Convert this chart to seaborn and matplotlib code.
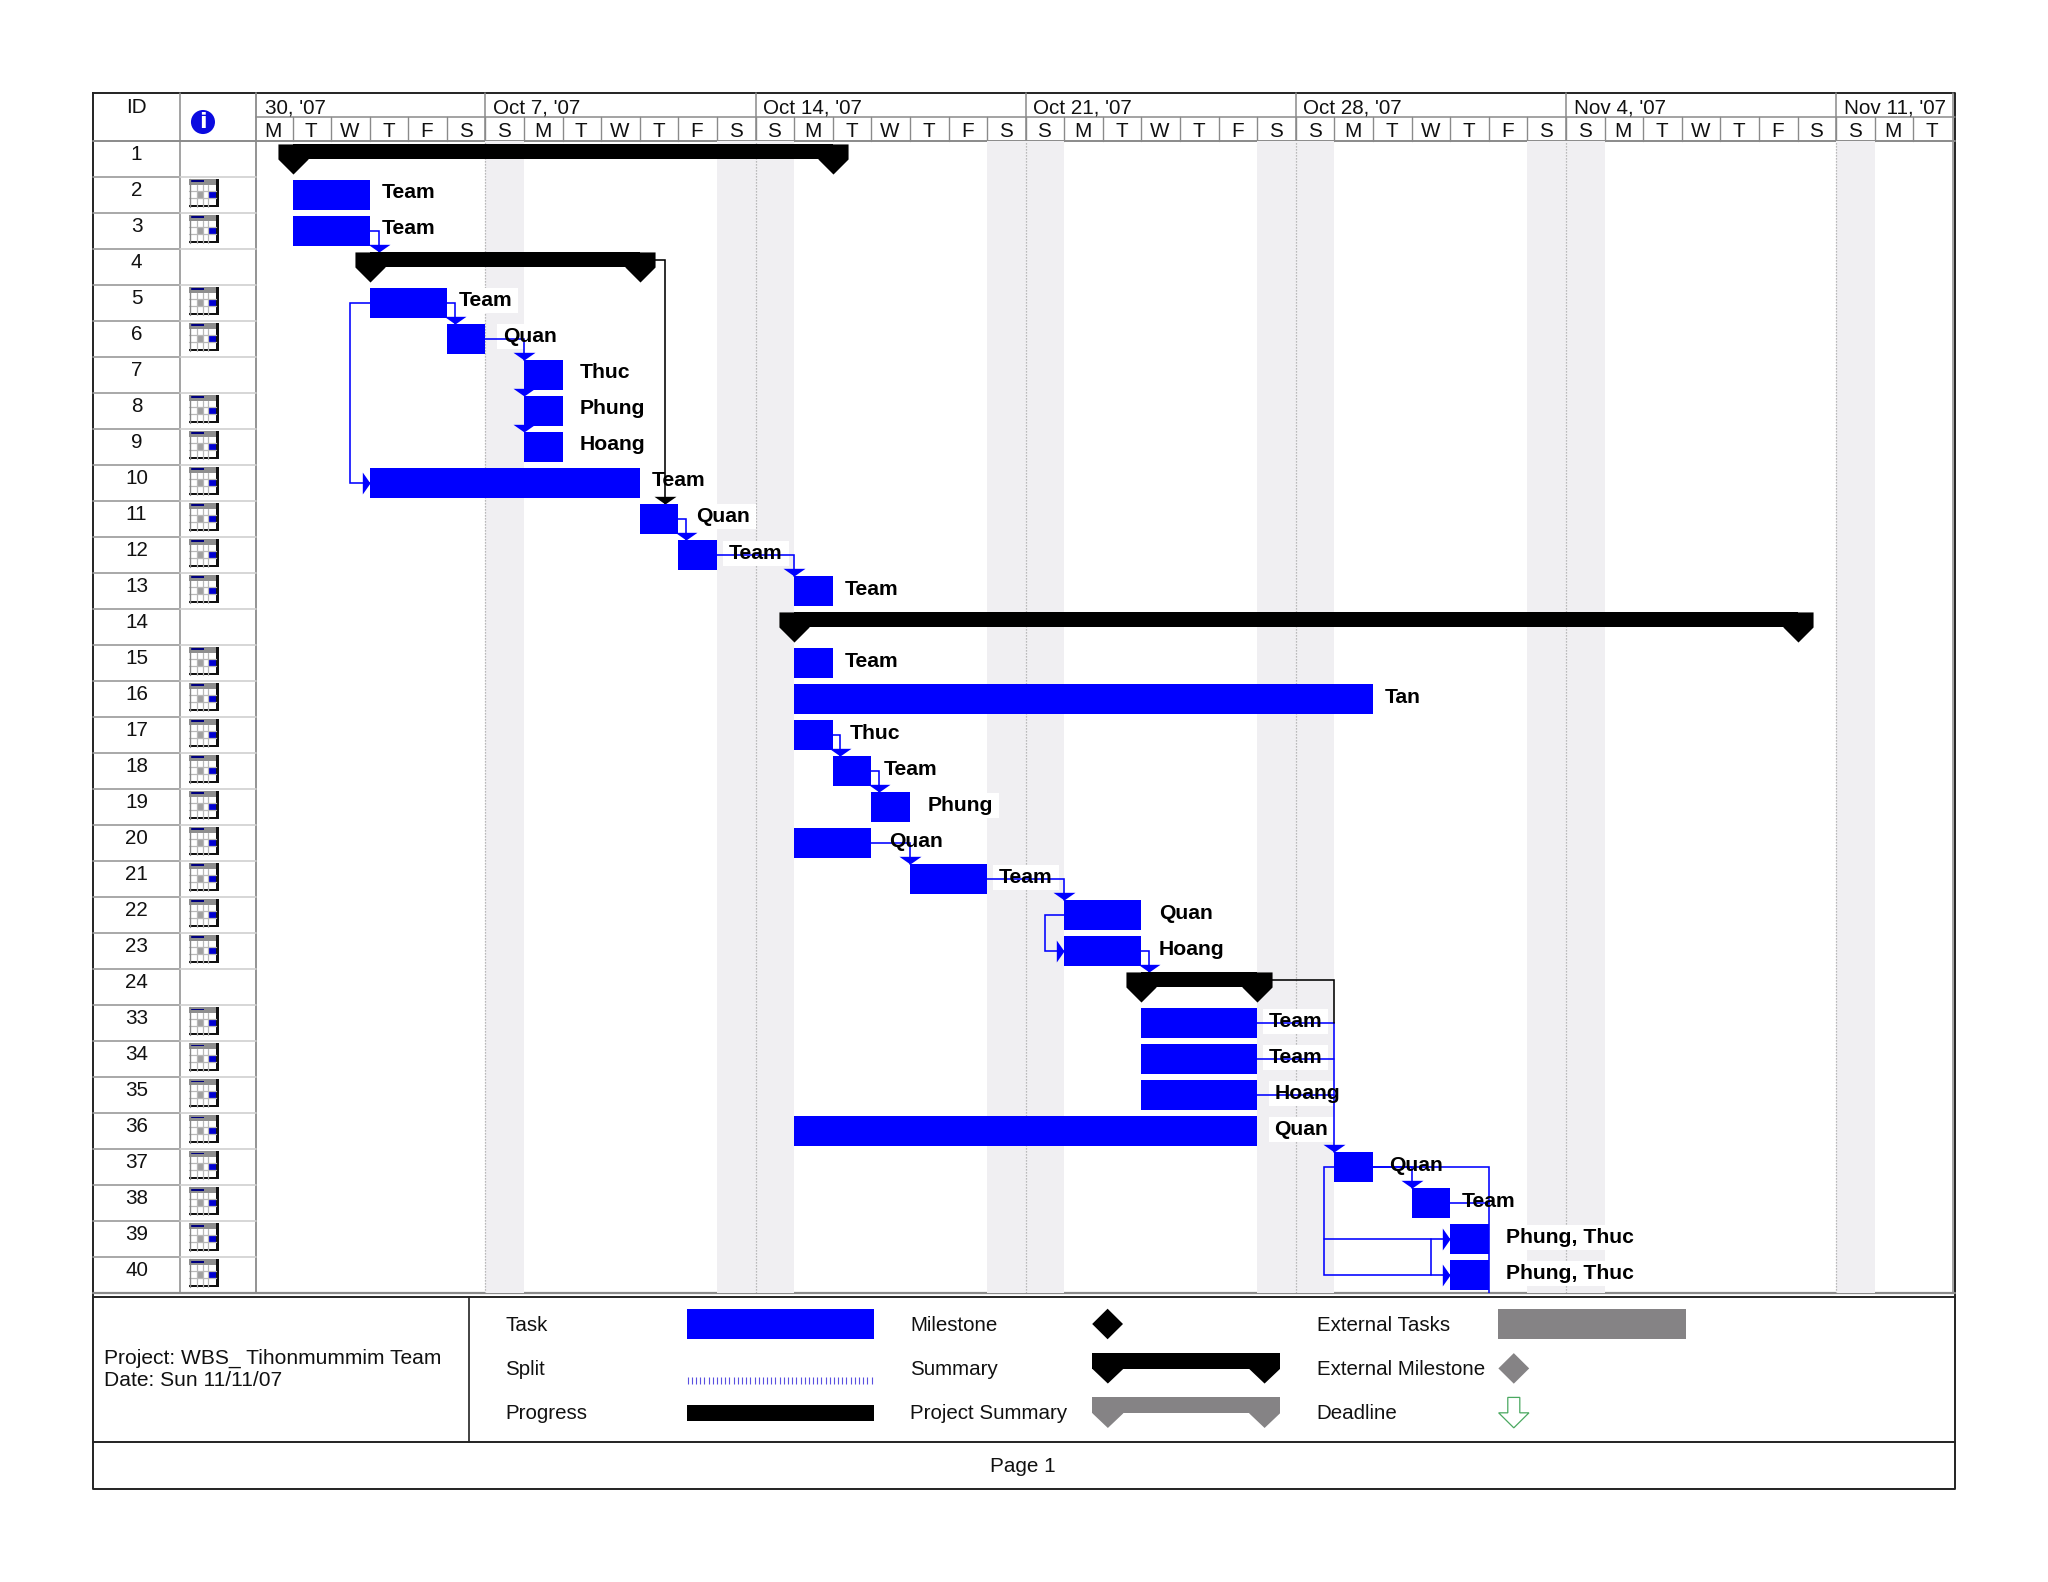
import numpy as np
import pandas as pd
import matplotlib
matplotlib.use("Agg")
import matplotlib.pyplot as plt
from matplotlib.patches import Rectangle, Polygon, Circle
import seaborn as sns

# ---------- data ----------
ids = list(range(1, 25)) + list(range(33, 41))
no_icon_ids = [1, 4, 7, 14, 24]
summary_ids = [1, 4, 14, 24]
summary_start = [1, 3, 14, 23]
summary_end = [15, 10, 40, 26]

task_ids = [2, 3, 5, 6, 7, 8, 9, 10, 11, 12, 13, 15, 16, 17, 18, 19, 20, 21, 22, 23,
            33, 34, 35, 36, 37, 38, 39, 40]
task_start = [1, 1, 3, 5, 7, 7, 7, 3, 10, 11, 14, 14, 14, 14, 15, 16, 14, 17, 21, 21,
              23, 23, 23, 14, 28, 30, 31, 31]
task_end = [3, 3, 5, 6, 8, 8, 8, 10, 11, 12, 15, 15, 29, 15, 16, 17, 16, 19, 23, 23,
            26, 26, 26, 26, 29, 31, 32, 32]
task_res = ["Team", "Team", "Team", "Quan", "Thuc", "Phung", "Hoang", "Team", "Quan", "Team",
            "Team", "Team", "Tan", "Thuc", "Team", "Phung", "Quan", "Team", "Quan", "Hoang",
            "Team", "Team", "Hoang", "Quan", "Quan", "Team", "Phung, Thuc", "Phung, Thuc"]
label_gap = [.3, .3, .3, .45, .45, .45, .45, .31, .45, .31,
             .3, .3, .3, .45, .31, .45, .47, .31, .45, .45,
             .3, .3, .45, .45, .43, .3, .45, .45]

week_labels = ["30, '07", "Oct 7, '07", "Oct 14, '07", "Oct 21, '07", "Oct 28, '07", "Nov 4, '07", "Nov 11, '07"]
week_start = [0, 6, 13, 20, 27, 34, 41]
day_letters = list("MTWTFS") + list("SMTWTFS") * 5 + list("SMT")
shade_start = [6, 12, 19, 26, 33, 41]
shade_end = [7, 14, 21, 28, 35, 42]

# finish-to-start links: from id, to id, day where the line drops
drop_links = [(3, 4, 3.25), (5, 6, 5.2), (6, 7, 7), (11, 12, 11.2), (12, 13, 14), (17, 18, 15.2),
              (18, 19, 16.2), (20, 21, 17), (21, 22, 21), (23, 24, 23.2), (37, 38, 30)]
arrow_only = [8, 9]
loop_links = [(5, 10, 2.5), (22, 23, 20.5)]
merge_ids = [33, 34, 35]

# ---------- setup ----------
sns.set_theme(style="white")
plt.rcParams["font.family"] = ["Liberation Sans", "DejaVu Sans"]
W, H = 1568, 1211
FS = 14.9
FB = 15.25
BLUE, BLACK, GREY = "#0000ff", "#000000", "#858385"
LINE = "#8a8a8a"

fig = plt.figure(figsize=(20.48, 15.82), dpi=100, facecolor="white")
pax = fig.add_axes([0, 0, 1, 1], zorder=0)
pax.set_xlim(0, W)
pax.set_ylim(H, 0)
pax.axis("off")

L, R, T, B = 194.4, 1494.4, 108, 990
ax = fig.add_axes([L / W, 1 - B / H, (R - L) / W, (B - T) / H], zorder=1)
ax.patch.set_alpha(0)

row = {v: i for i, v in enumerate(ids)}
start = dict(zip(task_ids, task_start)) | dict(zip(summary_ids, summary_start))
end = dict(zip(task_ids, task_end)) | dict(zip(summary_ids, summary_end))
yc = lambda i: row[i] + .5
ytop = lambda i: row[i] + .085
ysum = lambda i: row[i] + .29


# ---------- bars ----------
for i, s, e in zip(task_ids, task_start, task_end):
    sns.barplot(x=[e - s], y=[yc(i)], left=s, orient="y", native_scale=True, color=BLUE,
                width=.835, saturation=1, linewidth=0, errorbar=None, ax=ax, zorder=4)
for i, s, e in zip(summary_ids, summary_start, summary_end):
    sns.barplot(x=[e - s], y=[ysum(i)], left=s, orient="y", native_scale=True, color=BLACK,
                width=.42, saturation=1, linewidth=0, errorbar=None, ax=ax, zorder=4)

cap = [(-1, 1), (1, 1), (1, 0), (0, -1), (-1, 0)]
caps = pd.DataFrame({"x": summary_start + summary_end,
                     "y": [yc(i) for i in summary_ids] * 2})
sns.scatterplot(data=caps, x="x", y="y", marker=cap, s=470, color=BLACK, linewidth=0, ax=ax, zorder=4.5)

# ---------- links ----------
poly_blue, poly_black = [], []
down_x, down_y, right_x, right_y = [], [], [], []
for f, t, x in drop_links:
    poly_blue.append([(end[f], yc(f)), (x, yc(f)), (x, ytop(t))])
    down_x.append(x)
    down_y.append(ytop(t))
for t in arrow_only:
    down_x.append(start[t])
    down_y.append(ytop(t))
for f, t, x in loop_links:
    poly_blue.append([(start[f], yc(f)), (x, yc(f)), (x, yc(t)), (start[t], yc(t))])
    right_x.append(start[t])
    right_y.append(yc(t))

# into task 37 from the group 33-35 and summary 24
for i in merge_ids:
    poly_blue.append([(end[i], yc(i)), (start[37], yc(i))])
poly_blue.append([(start[37], yc(33)), (start[37], ytop(37))])
down_x.append(start[37])
down_y.append(ytop(37))
poly_black.append([(end[24] + .38, ysum(24)), (start[37], ysum(24)), (start[37], yc(33))])

# out of summary 4 into 11
poly_black.append([(end[4] + .38, ysum(4)), (10.65, ysum(4)), (10.65, ytop(11))])

# out of task 37 to 39 / 40
poly_blue.append([(end[37], yc(37)), (end[39], yc(37)), (end[39], row[40] + 1)])
poly_blue.append([(end[38], yc(38)), (end[39], yc(38))])
poly_blue.append([(start[37], yc(37)), (27.74, yc(37)), (27.74, yc(40)), (start[40], yc(40))])
poly_blue.append([(27.74, yc(39)), (start[39], yc(39))])
poly_blue.append([(30.5, yc(39)), (30.5, yc(40))])
right_x += [start[39], start[40]]
right_y += [yc(39), yc(40)]


def to_frame(polys):
    rows_ = [(k, x, y) for k, p in enumerate(polys) for x, y in p]
    return pd.DataFrame(rows_, columns=["link", "x", "y"])


sns.lineplot(data=to_frame(poly_blue), x="x", y="y", units="link", estimator=None, sort=False,
             color=BLUE, lw=1.15, ax=ax, zorder=3, legend=False, solid_joinstyle="miter")
sns.lineplot(data=to_frame(poly_black), x="x", y="y", units="link", estimator=None, sort=False,
             color=BLACK, lw=1.15, ax=ax, zorder=3, legend=False, solid_joinstyle="miter")

down_m = [(-1, .7), (1, .7), (0, 0)]
right_m = [(-.7, 1), (-.7, -1), (0, 0)]
ARROW = 250
sns.scatterplot(x=down_x, y=down_y, marker=down_m, s=ARROW, color=BLUE, linewidth=0, ax=ax, zorder=3)
sns.scatterplot(x=[10.65], y=[ytop(11)], marker=down_m, s=ARROW, color=BLACK, linewidth=0, ax=ax, zorder=3.5)
sns.scatterplot(x=right_x, y=right_y, marker=right_m, s=ARROW, color=BLUE, linewidth=0, ax=ax, zorder=3)

# ---------- calendar grid ----------
for s, e in zip(shade_start, shade_end):
    ax.axvspan(s, e, color="#f0eff2", lw=0, zorder=1)
for w in week_start[1:]:
    ax.axvline(w, color="#a8a8a8", lw=.9, ls=(0, (1, 1.4)), zorder=1.2)

ax.set_xlim(0, 44)
ax.set_ylim(32, 0)
ax.set_xlabel("")
ax.set_ylabel("")
ax.axis("off")

# ---------- labels with white backing ----------
fig.canvas.draw()
rend = fig.canvas.get_renderer()
inv = ax.transData.inverted()
for i, e, lab, g in zip(task_ids, task_end, task_res, label_gap):
    t = ax.text(e + g, yc(i) - .06, lab, fontsize=FB, fontweight="bold", color="black",
                ha="left", va="center", zorder=6)
    bb = t.get_window_extent(rend)
    (x0, y0), (x1, y1) = inv.transform([(bb.x0 - 6, bb.y0 - 3), (bb.x1 + 6, bb.y1 + 3)])
    ax.add_patch(Rectangle((x0, y0), x1 - x0, y1 - y0, fc="white", ec="none", zorder=2))

# ---------- table, header, footer (figure pixel scale) ----------
OL, OR, OT, OB = 71.5, 1497, 71, 1140
CX1, CX2 = 138, 196
rh = (B - T) / 32
pax.plot([OL, OR, OR, OL, OL], [OT, OT, OB, OB, OT], color="#222222", lw=1.4)
pax.plot([CX1, CX1], [OT, B], color=LINE, lw=1.1)
pax.plot([CX2, CX2], [OT, B], color=LINE, lw=1.3)
pax.plot([OL, OR], [T, T], color=LINE, lw=1.4)
pax.plot([OL, OR], [B, B], color=LINE, lw=1.6)
pax.plot([OR - 1.5, OR - 1.5], [OT, B], color=LINE, lw=1.1)
pax.plot([OL, OR], [992.5, 992.5], color="#222222", lw=1.4)
pax.plot([OL, OR], [1104, 1104], color="#222222", lw=1.4)
pax.plot([359, 359], [992.5, 1104], color="#222222", lw=1.2)
day_w = (R - L) / 44
pax.plot([CX2, OR], [89.7, 89.7], color=LINE, lw=1.1)
for k, letter in enumerate(day_letters):
    xx = L + k * day_w
    if k:
        pax.plot([xx, xx], [89.7, T], color=LINE, lw=1.0)
    pax.text(xx + day_w / 2 - .5, 100.5, letter, fontsize=FS, ha="center", va="center", color="#111111")
for lab, w in zip(week_labels, week_start):
    xx = L + w * day_w
    if w:
        pax.plot([xx, xx], [OT, T], color=LINE, lw=1.1)
    pax.text(xx + (8.5 if w == 0 else 5.8), 82.5, lab, fontsize=FS, ha="left", va="center", color="#111111")
pax.text(104.5, 82.5, "ID", fontsize=FS, ha="center", va="center", color="#111111")
pax.add_patch(Circle((155.4, 93.4), 9.2, fc="#0a0ae0", ec="none"))
pax.text(155.4, 93.4, "i", fontsize=16, fontweight="bold", family="DejaVu Sans", color="white",
         ha="center", va="center")


def calendar_icon(top):
    x0, w, h = 145, 23, 21
    pax.add_patch(Rectangle((x0, top), w, h, fc="white", ec="none"))
    pax.add_patch(Rectangle((x0, top), w - 2.4, 4.4, fc="#8e8e8e", ec="none"))
    pax.add_patch(Rectangle((x0 + 1, top + .9), 10.5, 1.5, fc="#000080", ec="none"))
    for gx in (5.6, 10.7, 14.5):
        pax.plot([x0 + gx] * 2, [top + 4.4, top + h], color="#b8b8b8", lw=.9)
    for gy in (8.7, 14.5):
        pax.plot([x0, x0 + w - 2.4], [top + gy] * 2, color="#b8b8b8", lw=.9)
    pax.add_patch(Rectangle((x0 + 5.6, top + 8.7), 5.1, 5.8, fc="#a0a0a0", ec="none"))
    pax.add_patch(Rectangle((x0 + 14.5, top + 8.7), 6, 5.8, fc="#0000d0", ec="none"))
    pax.add_patch(Rectangle((x0 + w - 2.4, top), 2.4, h, fc="#111111", ec="none"))
    pax.add_patch(Rectangle((x0, top + h - 1.4), w, 1.4, fc="#111111", ec="none"))
    pax.plot([x0 + .3, x0 + .3], [top, top + h], color="#888888", lw=1)


for k, v in enumerate(ids):
    rt = T + k * rh
    if k:
        pax.plot([OL, CX1], [rt, rt], color="#9a9a9a", lw=1.2)
        pax.plot([CX1, CX2], [rt, rt], color="#cfcfcf", lw=1.2)
    pax.text(104.5, rt + rh / 2 - 3.5, str(v), fontsize=FS, ha="center", va="center", color="#111111")
    if v not in no_icon_ids:
        calendar_icon(rt + 1.6)

pax.text(80, 1039.5, "Project: WBS_ Tihonmummim Team", fontsize=15.1, va="center", color="#111111")
pax.text(80, 1056.5, "Date: Sun 11/11/07", fontsize=15.1, va="center", color="#111111")
pax.text(783, 1122.5, "Page 1", fontsize=FS, ha="center", va="center", color="#111111")
for x, y, s in [(387, 1014.5, "Task"), (387, 1048, "Split"), (387, 1082, "Progress"),
                (697, 1014.5, "Milestone"), (697, 1048, "Summary"), (697, 1082, "Project Summary"),
                (1008, 1014.5, "External Tasks"), (1008, 1048, "External Milestone"), (1008, 1082, "Deadline")]:
    pax.text(x, y, s, fontsize=14.8, va="center", color="#111111")

pax.add_patch(Rectangle((526, 1002), 143, 23, fc=BLUE, ec="none"))
pax.add_patch(Rectangle((526, 1075.8), 143, 12.2, fc=BLACK, ec="none"))
pax.vlines(np.arange(526.5, 669.5, 3.2), 1054, 1059.6, color="#5a50e0", lw=.8)
pax.add_patch(Rectangle((1147, 1002), 143.6, 23, fc=GREY, ec="none"))


def diamond(cx, cy, color):
    pax.add_patch(Polygon([(cx, cy - 11.7), (cx + 11.8, cy), (cx, cy + 11.7), (cx - 11.8, cy)], fc=color, ec="none"))


diamond(848, 1013.5, BLACK)
diamond(1159, 1047.5, GREY)


def legend_summary(top, color):
    x0, x1 = 836.4, 980
    pax.add_patch(Rectangle((x0, top), x1 - x0, 12.2, fc=color, ec="none"))
    for cx in (x0 + 11.8, x1 - 11.8):
        pax.add_patch(Polygon([(cx - 11.8, top), (cx + 11.8, top), (cx + 11.8, top + 12.2), (cx, top + 23.4),
                               (cx - 11.8, top + 12.2)], fc=color, ec="none"))


legend_summary(1035.7, BLACK)
legend_summary(1069.7, GREY)
cx = 1159
pax.add_patch(Polygon([(cx - 4.6, 1069.7), (cx + 4.6, 1069.7), (cx + 4.6, 1081.5), (cx + 11.6, 1081.5), (cx, 1093),
                       (cx - 11.6, 1081.5), (cx - 4.6, 1081.5)], fc="white", ec="#4aa860", lw=.9))

fig.savefig("out.png", dpi=100, facecolor="white")
